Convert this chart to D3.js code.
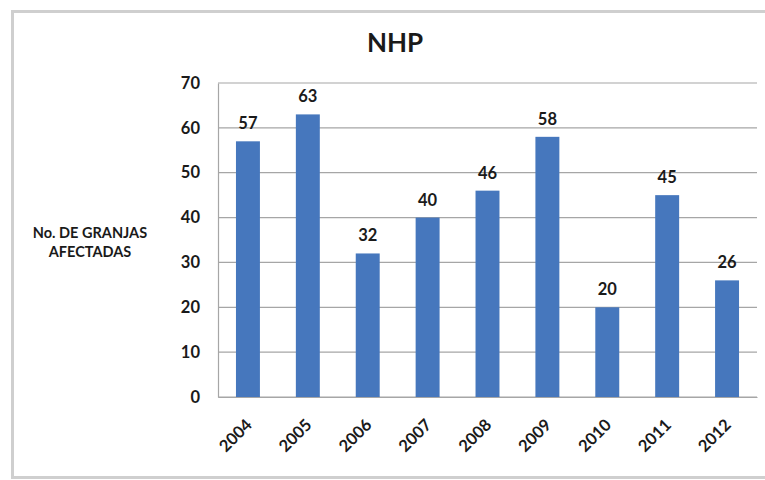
<!DOCTYPE html>
<html>
<head>
<meta charset="utf-8">
<script src="https://cdn.jsdelivr.net/npm/d3@7"></script>
<style>
  html, body { margin: 0; padding: 0; background: #fff; }
  svg { display: block; }
  text { font-family: Lato, "Open Sans", sans-serif; font-weight: bold; fill: #1a1a1a; }
</style>
</head>
<body>
<svg id="chart" width="765" height="480"></svg>
<script>
const categories = ["2004", "2005", "2006", "2007", "2008", "2009", "2010", "2011", "2012"];
const values = [57, 63, 32, 40, 46, 58, 20, 45, 26];
const yTicks = [0, 10, 20, 30, 40, 50, 60, 70];
const title = "NHP";
const yTitle = ["No. DE GRANJAS", "AFECTADAS"];

const svg = d3.select("#chart");
const m = { left: 218, right: 757, top: 83 };
const plotBottom = 397;

// outer frame
svg.append("rect").attr("x", 12.5).attr("y", 11.5).attr("width", 800).attr("height", 466)
  .attr("fill", "none").attr("stroke", "#cfcfcf").attr("stroke-width", 3);

const x = d3.scaleBand().domain(categories).range([m.left, m.right])
  .paddingInner(0.6).paddingOuter(0.3);
const y = d3.scaleLinear().domain([0, 70]).range([plotBottom, m.top]);

// gridlines
svg.append("g").selectAll("line").data(yTicks).join("line")
  .attr("x1", m.left).attr("x2", m.right)
  .attr("y1", d => y(d)).attr("y2", d => y(d))
  .attr("stroke", "#a6a6a6").attr("stroke-width", 1.2);

// y axis
const yAxis = d3.axisLeft(y).tickValues(yTicks).tickSize(0).tickPadding(18);
const gy = svg.append("g").attr("transform", `translate(${m.left},0)`).call(yAxis);
gy.select(".domain").attr("stroke", "#a6a6a6").attr("stroke-width", 1.2);
gy.selectAll("text").style("font-size", "16.5px").attr("fill", "#1a1a1a");

// bars
svg.append("g").selectAll("rect").data(values).join("rect")
  .attr("x", (d, i) => x(categories[i]))
  .attr("y", d => y(d))
  .attr("width", x.bandwidth())
  .attr("height", d => plotBottom - y(d))
  .attr("fill", "#4677bd");

// value labels
svg.append("g").selectAll("text").data(values).join("text")
  .attr("x", (d, i) => x(categories[i]) + x.bandwidth() / 2)
  .attr("y", d => y(d) - 12)
  .attr("text-anchor", "middle")
  .style("font-size", "16.5px")
  .text(d => d);

// x axis
const xAxis = d3.axisBottom(x).tickSize(0).tickPadding(0);
const gx = svg.append("g").attr("transform", `translate(0,${plotBottom})`).call(xAxis);
gx.select(".domain").attr("stroke", "#a6a6a6").attr("stroke-width", 1.2);
gx.selectAll("text")
  .style("font-size", "16.5px")
  .attr("fill", "#1a1a1a")
  .attr("text-anchor", "end")
  .attr("dy", null)
  .attr("transform", "translate(5,29) rotate(-45)");

// title
svg.append("text").attr("x", 395).attr("y", 52).attr("text-anchor", "middle")
  .style("font-size", "26px").text(title);

// y title
svg.append("text").attr("x", 90).attr("y", 238).attr("text-anchor", "middle")
  .style("font-size", "14.5px")
  .selectAll("tspan").data(yTitle).join("tspan")
  .attr("x", 90).attr("dy", (d, i) => i === 0 ? 0 : 19).text(d => d);
</script>
</body>
</html>
